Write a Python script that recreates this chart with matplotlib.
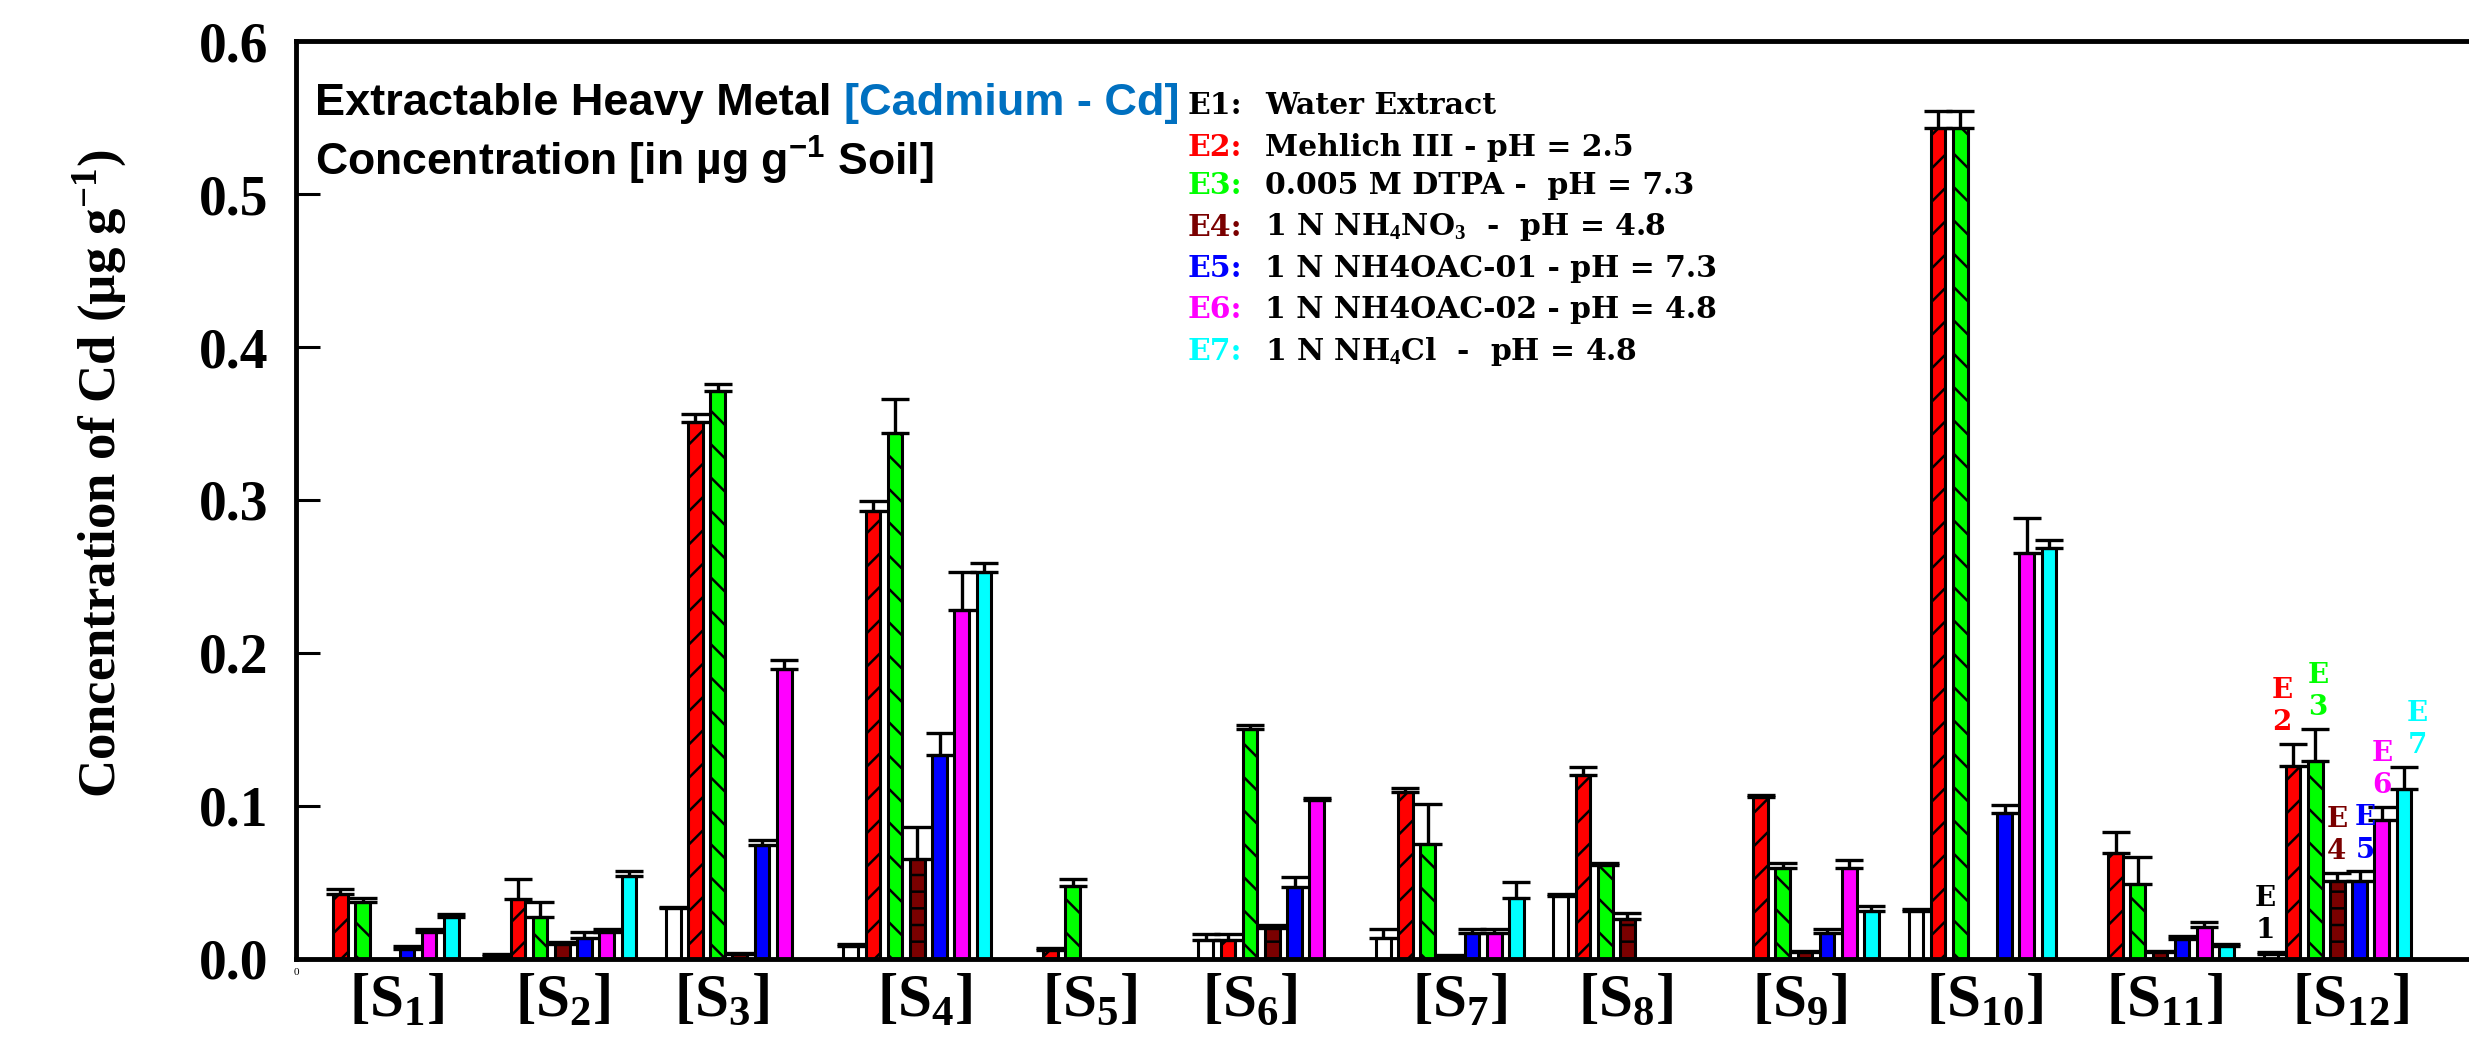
import numpy as np
import matplotlib
matplotlib.use("Agg")
import matplotlib.pyplot as plt

plt.rcParams["mathtext.fontset"] = "custom"
plt.rcParams["mathtext.rm"] = "Liberation Serif:bold"
plt.rcParams["mathtext.bf"] = "Liberation Serif:bold"
plt.rcParams["mathtext.sf"] = "Liberation Sans:bold"
plt.rcParams["mathtext.it"] = "DejaVu Serif:bold"
plt.rcParams["hatch.linewidth"] = 1.8

# ---- data: Cd (ug/g) per extractant, sites S1..S12 ----
sites = [r"[S$_{\mathrm{%d}}$]" % n for n in range(1, 13)]
site_label_x = [4.55, 12.03, 19.2, 28.35, 35.78, 43.0, 52.46, 59.94, 67.78, 76.1, 84.2, 92.6]

e1 = [0, 0.002, 0.0335, 0.0085, 0, 0.0122, 0.0135, 0.041, 0, 0.0311, 0, 0.0033]
e2 = [0.0427, 0.039, 0.351, 0.293, 0.006, 0.0122, 0.109, 0.120, 0.106, 0.543, 0.069, 0.126]
e3 = [0.0375, 0.0275, 0.371, 0.3436, 0.048, 0.150, 0.075, 0.0617, 0.0597, 0.543, 0.049, 0.1293]
e4 = [0, 0.010, 0.003, 0.0656, 0, 0.0205, 0.002, 0.026, 0.0044, 0, 0.0046, 0.0508]
e5 = [0.0067, 0.0135, 0.0745, 0.1333, 0, 0.047, 0.017, 0, 0.0172, 0.0957, 0.0131, 0.0508]
e6 = [0.0176, 0.0176, 0.1895, 0.228, 0, 0.104, 0.017, 0, 0.0597, 0.2654, 0.0207, 0.0906]
e7 = [0.0274, 0.0545, 0, 0.253, 0, 0, 0.0397, 0, 0.0314, 0.2685, 0.0087, 0.1113]

sd1 = [0, 0.001, 0.0005, 0.0015, 0, 0.0043, 0.0059, 0.0015, 0, 0.0016, 0, 0.0013]
sd2 = [0.003, 0.0135, 0.005, 0.0064, 0.0014, 0.0043, 0.003, 0.0055, 0.001, 0.011, 0.0143, 0.0147]
sd3 = [0.0025, 0.01, 0.0045, 0.0224, 0.0045, 0.003, 0.026, 0.0011, 0.0031, 0.011, 0.0179, 0.0212]
sd4 = [0, 0.001, 0.001, 0.0207, 0, 0.0015, 0.0005, 0.0038, 0.0005, 0, 0.0004, 0.0057]
sd5 = [0.0018, 0.0041, 0.0035, 0.0142, 0, 0.0065, 0.0024, 0, 0.0022, 0.0051, 0.0017, 0.0066]
sd6 = [0.0018, 0.0018, 0.0059, 0.025, 0, 0.001, 0.0024, 0, 0.0053, 0.0226, 0.0033, 0.0089]
sd7 = [0.0018, 0.0031, 0, 0.006, 0, 0, 0.0108, 0, 0.0032, 0.0052, 0.0013, 0.0142]

extract_names = ["E1:", "E2:", "E3:", "E4:", "E5:", "E6:", "E7:"]
extract_desc = ["Water Extract",
                "Mehlich III - pH = 2.5",
                "0.005 M DTPA -  pH = 7.3",
                r"1 N NH$_{\mathit{4}}$NO$_{\mathit{3}}$  -  pH = 4.8",
                "1 N NH4OAC-01 - pH = 7.3",
                "1 N NH4OAC-02 - pH = 4.8",
                r"1 N NH$_{\mathit{4}}$Cl  -  pH = 4.8"]
colors = ["white", "#FF0000", "#00FF00", "#7A0000", "#0000FF", "#FF00FF", "#00FFFF"]
text_colors = ["black"] + colors[1:]
hatches = [None, "/", "\\", "-", None, None, None]
tag_dx = [-0.27, -0.5, 0.12, -0.02, 0.24, 0.0, 0.6]   # nudges of the E-tags over S12

values = [e1, e2, e3, e4, e5, e6, e7]
errors = [sd1, sd2, sd3, sd4, sd5, sd6, sd7]

fig = plt.figure(figsize=(24.69, 10.41), dpi=100)
ax = fig.add_axes([0.1199, 0.0788, 0.8801, 0.8818])

group = np.arange(12) * 8 + 1
for i, (vals, errs) in enumerate(zip(values, errors)):
    v = np.array(vals, float); e = np.array(errs, float)
    keep = v > 0
    x = group[keep] + i
    ax.bar(x, v[keep], width=0.66, color=colors[i], edgecolor="black",
           linewidth=2.2, hatch=hatches[i], zorder=2)
    ax.errorbar(x, v[keep], yerr=[np.zeros(keep.sum()), e[keep]], fmt="none",
                ecolor="black", elinewidth=2.4, capsize=10, capthick=2.4, zorder=3)

# extractant tags above the S12 bars
for i in range(7):
    top = values[i][-1] + errors[i][-1]
    ax.text(group[-1] + i + tag_dx[i], top + 0.005, "E\n%d" % (i + 1), color=text_colors[i],
            ha="center", va="bottom", fontsize=20, fontweight="bold", family="DejaVu Serif",
            linespacing=1.25, zorder=4)

ax.set_xlim(0, 97.93)
ax.set_ylim(0, 0.6)
yt = np.arange(0, 0.61, 0.1)
ax.set_yticks(yt)
ax.set_yticklabels(["%.1f" % t for t in yt])
ax.tick_params(axis="y", direction="in", length=17, width=2.2, pad=20, labelsize=40)
for lab in ax.get_yticklabels():
    lab.set_family("Liberation Serif"); lab.set_fontweight("bold")
ax.set_xticks(site_label_x)
ax.set_xticklabels(sites)
ax.tick_params(axis="x", length=0, pad=10, labelsize=44)
for lab in ax.get_xticklabels():
    lab.set_family("Liberation Serif"); lab.set_fontweight("bold")
ax.text(0, -0.006, "0", ha="center", va="top", fontsize=8, family="Liberation Serif")

for side in ("left", "bottom", "top"):
    ax.spines[side].set_linewidth(3.5)
ax.spines["right"].set_visible(False)

fig.text(100 / 2469, 1 - 474 / 1041, r"Concentration of Cd (µg g$^{\mathrm{-1}}$)", rotation=90,
         ha="center", va="center", fontsize=38, fontweight="bold", family="Liberation Serif")

# title, two lines, with the metal name in blue
t1 = fig.text(315 / 2469, 1 - 103 / 1041, "Extractable Heavy Metal ", ha="left", va="center",
              fontsize=32.5, fontweight="bold", family="Liberation Sans")
ax.annotate("[Cadmium - Cd]", xy=(1, 0.5), xycoords=t1, ha="left", va="center",
            fontsize=32.5, fontweight="bold", family="Liberation Sans", color="#0070C0")
fig.text(315 / 2469, 1 - 160 / 1041, r"Concentration [in µg g$^{\mathsf{-1}}$ Soil]", ha="left",
         va="center", fontsize=32, fontweight="bold", family="Liberation Sans")

# extractant key
key_y = [105, 147, 186, 227, 269, 310, 352]
for i in range(7):
    y = 1 - key_y[i] / 1041
    fig.text(1188 / 2469, y, extract_names[i], ha="left", va="center", fontsize=21.5,
             fontweight="bold", family="DejaVu Serif", color=text_colors[i])
    fig.text(1265 / 2469, y, extract_desc[i], ha="left", va="center", fontsize=21.5,
             fontweight="bold", family="DejaVu Serif")

fig.savefig("out.png", dpi=100)
